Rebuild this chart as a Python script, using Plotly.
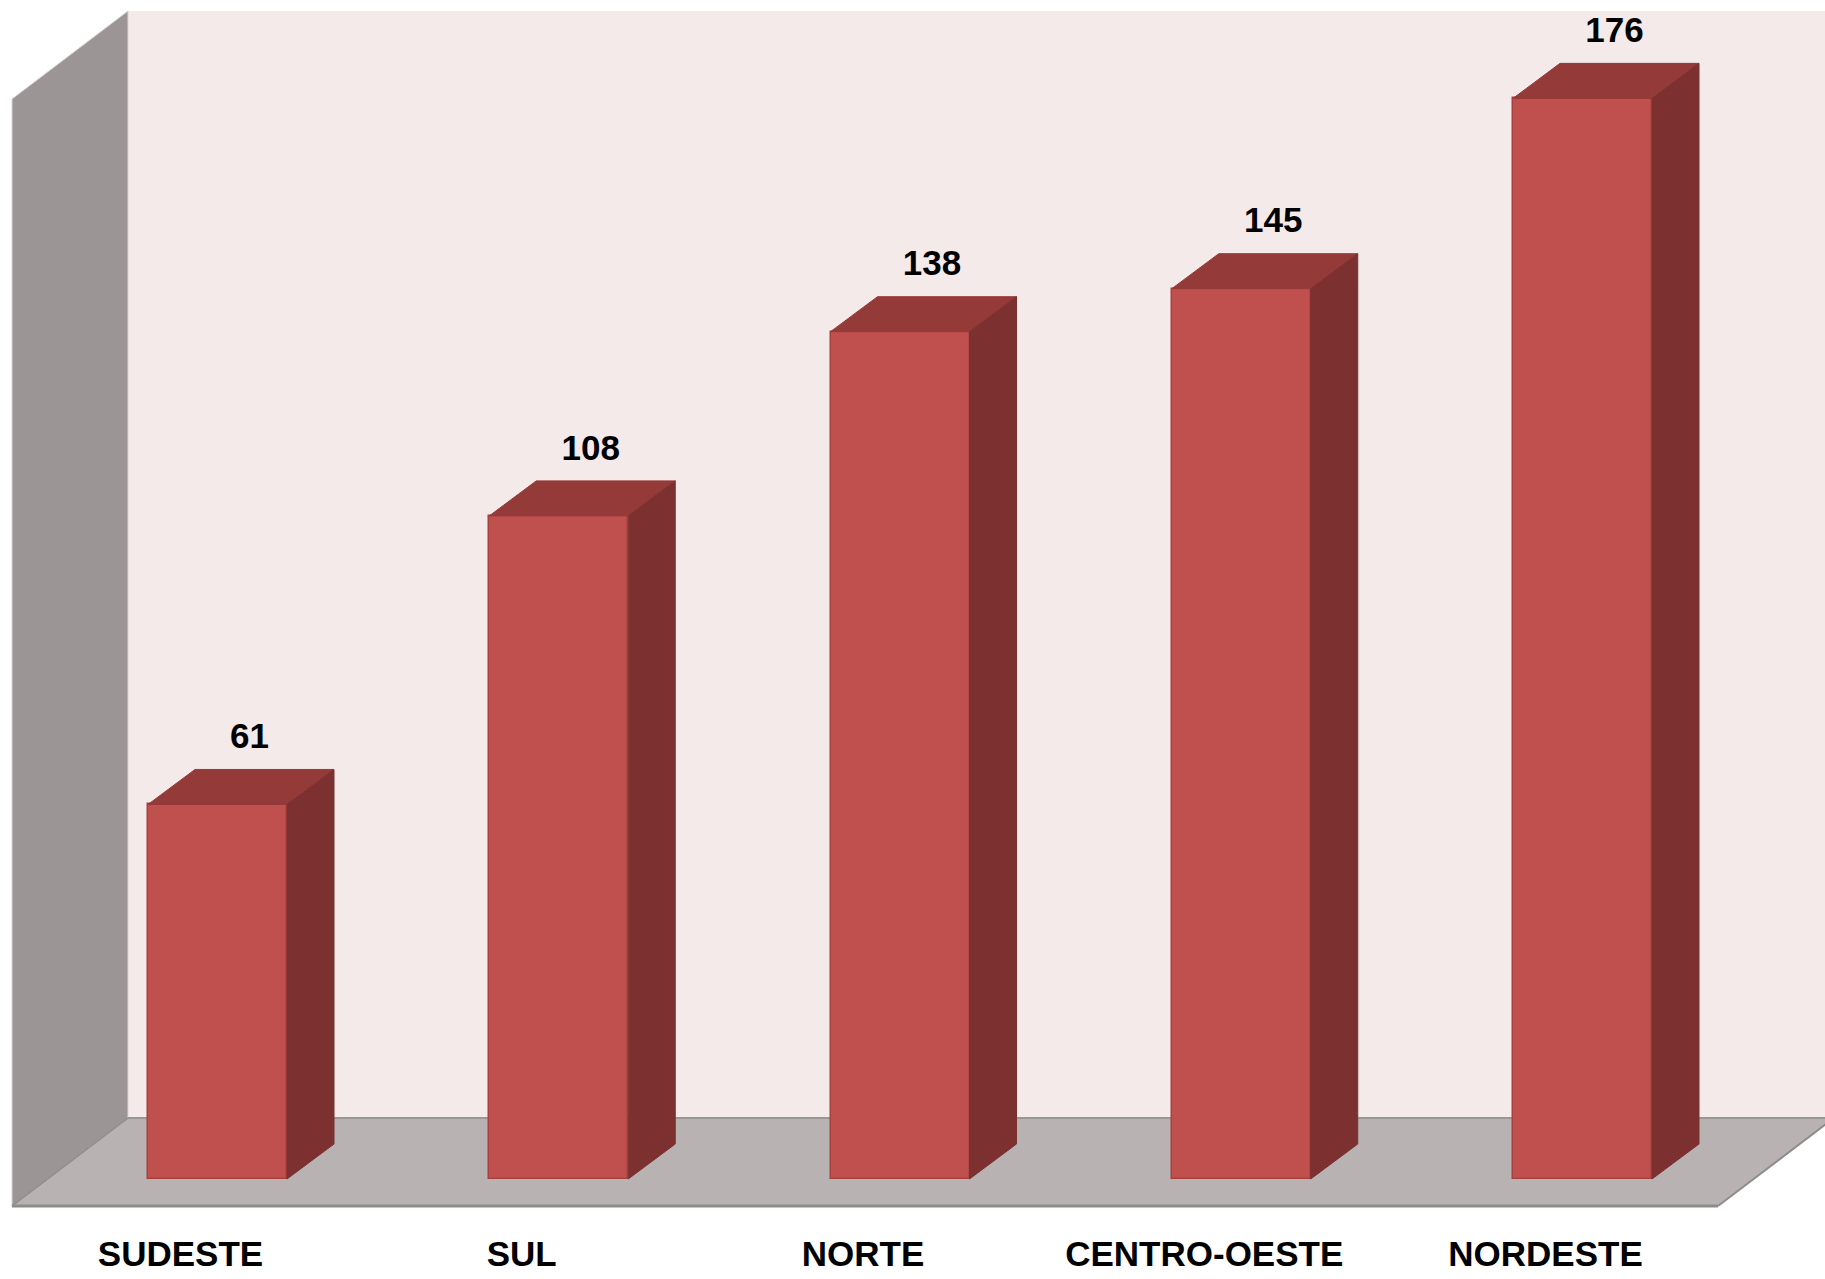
import plotly.graph_objects as go

categories = ["SUDESTE", "SUL", "NORTE", "CENTRO-OESTE", "NORDESTE"]
values = [61, 108, 138, 145, 176]

W, H = 1825, 1279
PITCH = 341.25          # px per category
X0_PX = 217.5           # px of first category centre
BASE_PX = 1179          # px of value 0
PPU = 6.14              # px per value unit

def xu(px):   # px offset -> x units
    return px / PITCH

def yu(px):   # px offset -> y units
    return px / PPU

x_range = [-X0_PX / PITCH, (W - X0_PX) / PITCH]
y_range = [-(H - BASE_PX) / PPU, BASE_PX / PPU]

half = xu(139) / 2
ddx, ddy = xu(47), yu(35)

FRONT = "#C0504D"
TOP = "#943B39"
SIDE = "#7C3030"
EDGE = "#A8403D"

fig = go.Figure()

# front faces
fig.add_trace(go.Bar(x=list(range(len(values))), y=values, width=2 * half,
                     marker=dict(color=FRONT, line=dict(color=EDGE, width=1.5)),
                     hoverinfo="skip", showlegend=False))

# top and side faces
for i, v in enumerate(values):
    l, r = i - half, i + half
    fig.add_trace(go.Scatter(
        x=[l, r, r + ddx, l + ddx, l], y=[v, v, v + ddy, v + ddy, v],
        fill="toself", fillcolor=TOP, mode="lines",
        line=dict(color=TOP, width=1), hoverinfo="skip", showlegend=False))
    fig.add_trace(go.Scatter(
        x=[r, r + ddx, r + ddx, r, r], y=[0, ddy, v + ddy, v, 0],
        fill="toself", fillcolor=SIDE, mode="lines",
        line=dict(color=SIDE, width=1), hoverinfo="skip", showlegend=False))

# value labels
fig.add_trace(go.Scatter(
    x=[i + xu(32) for i in range(len(values))],
    y=[v + ddy + yu(30) for v in values],
    text=[f"<b>{v}</b>" for v in values], mode="text", textposition="middle center",
    textfont=dict(family="Liberation Sans, Arial", size=35, color="#000000"),
    hoverinfo="skip", showlegend=False, cliponaxis=False))

# category labels
fig.add_trace(go.Scatter(
    x=[i - xu(37) for i in range(len(categories))],
    y=[yu(BASE_PX - 1257)] * len(categories),
    text=[f"<b>{c}</b>" for c in categories], mode="text", textposition="middle center",
    textfont=dict(family="Liberation Sans, Arial", size=35, color="#000000"),
    hoverinfo="skip", showlegend=False, cliponaxis=False))

# walls / floor (decorative, in axis units)
fl_front = yu(BASE_PX - 1206)
fl_back = yu(BASE_PX - 1118)
wall_top = yu(BASE_PX - 11)
back_left = xu(128 - X0_PX)
front_left = xu(12 - X0_PX)
front_right = xu(1718 - X0_PX)
back_right = front_right + (back_left - front_left)
side_top_left = wall_top - (fl_back - fl_front)

shapes = [
    dict(type="path", xref="x", yref="y", layer="below",
         path=f"M {back_left},{fl_back} L {x_range[1] + 1},{fl_back} L {x_range[1] + 1},{wall_top} L {back_left},{wall_top} Z",
         fillcolor="#F5EAEA", line=dict(width=0)),
    dict(type="path", xref="x", yref="y", layer="below",
         path=f"M {front_left},{fl_front} L {back_left},{fl_back} L {back_left},{wall_top} L {front_left},{side_top_left} Z",
         fillcolor="#9B9595", line=dict(color="#D8D4D4", width=1)),
    dict(type="path", xref="x", yref="y", layer="below",
         path=f"M {front_left},{fl_front} L {front_right},{fl_front} L {back_right},{fl_back} L {back_left},{fl_back} Z",
         fillcolor="#B9B2B2", line=dict(width=0)),
    dict(type="line", xref="x", yref="y", layer="below",
         x0=back_left, x1=x_range[1] + 1, y0=fl_back, y1=fl_back,
         line=dict(color="#9A9696", width=2)),
    dict(type="line", xref="x", yref="y", layer="below",
         x0=front_left, x1=front_right, y0=fl_front, y1=fl_front,
         line=dict(color="#8C8C8C", width=3)),
    dict(type="line", xref="x", yref="y", layer="below",
         x0=front_right, x1=back_right, y0=fl_front, y1=fl_back,
         line=dict(color="#8C8C8C", width=2)),
    dict(type="line", xref="x", yref="y", layer="below",
         x0=front_left, x1=back_left, y0=fl_front, y1=fl_back,
         line=dict(color="#8F8A8A", width=1.5)),
]

fig.update_layout(
    width=W, height=H, margin=dict(l=0, r=0, t=0, b=0),
    paper_bgcolor="white", plot_bgcolor="white",
    xaxis=dict(range=x_range, visible=False, fixedrange=True),
    yaxis=dict(range=y_range, visible=False, fixedrange=True),
    shapes=shapes, bargap=0, showlegend=False,
)

fig.write_html("out.html")
